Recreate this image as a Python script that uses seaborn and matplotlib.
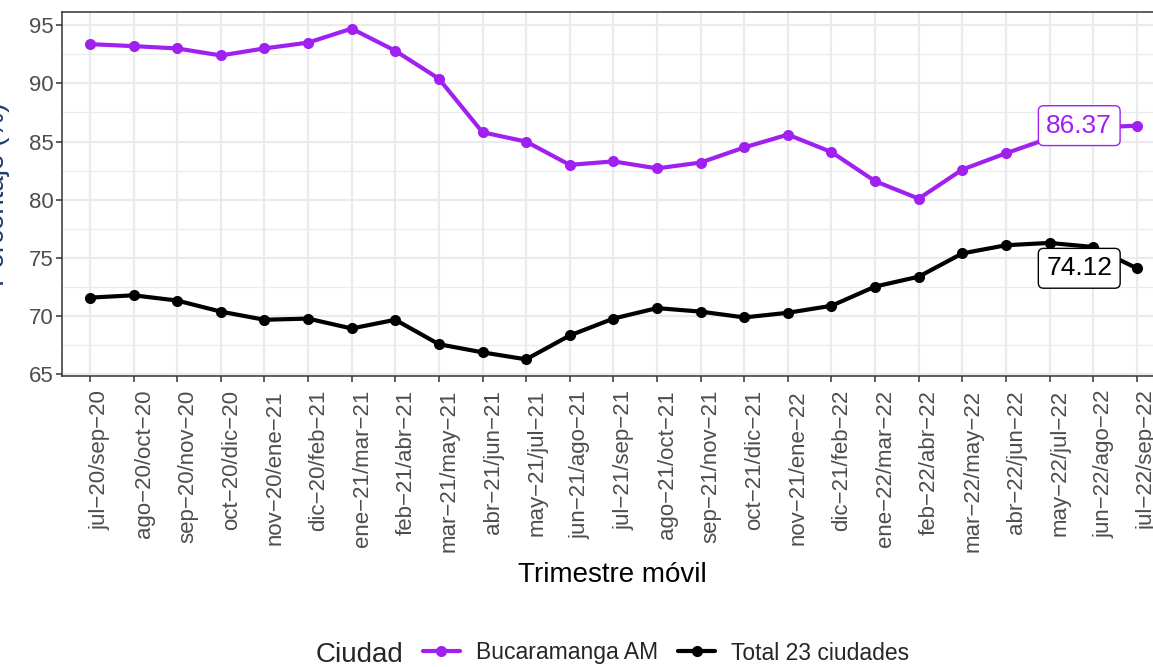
import pandas as pd
import seaborn as sns
from matplotlib import pyplot as plt, ticker
from matplotlib.lines import Line2D

periodos = [
    "jul−20/sep−20", "ago−20/oct−20", "sep−20/nov−20", "oct−20/dic−20",
    "nov−20/ene−21", "dic−20/feb−21", "ene−21/mar−21", "feb−21/abr−21",
    "mar−21/may−21", "abr−21/jun−21", "may−21/jul−21", "jun−21/ago−21",
    "jul−21/sep−21", "ago−21/oct−21", "sep−21/nov−21", "oct−21/dic−21",
    "nov−21/ene−22", "dic−21/feb−22", "ene−22/mar−22", "feb−22/abr−22",
    "mar−22/may−22", "abr−22/jun−22", "may−22/jul−22", "jun−22/ago−22",
    "jul−22/sep−22",
]
bucaramanga = [93.37, 93.2, 93.0, 92.4, 93.0, 93.5, 94.7, 92.8, 90.4, 85.8,
               85.0, 83.0, 83.3, 82.7, 83.2, 84.5, 85.6, 84.1, 81.6, 80.1,
               82.6, 84.0, 85.3, 86.2, 86.37]
total = [71.6, 71.8, 71.35, 70.4, 69.7, 69.8, 68.95, 69.7, 67.6, 66.9,
         66.3, 68.35, 69.8, 70.7, 70.4, 69.9, 70.3, 70.9, 72.55, 73.4,
         75.4, 76.1, 76.3, 75.95, 74.12]
ciudades = ["Bucaramanga AM", "Total 23 ciudades"]
colores = ["#A020F0", "#000000"]


def main():
    sns.set_theme(style="white")
    plt.rcParams['font.family'] = ['Liberation Sans', 'DejaVu Sans']

    df = pd.concat([
        pd.DataFrame({"periodo": periodos, "valor": bucaramanga, "ciudad": ciudades[0]}),
        pd.DataFrame({"periodo": periodos, "valor": total, "ciudad": ciudades[1]}),
    ])
    paleta = dict(zip(ciudades, colores))

    fig = plt.figure(figsize=(11.53, 6.67), dpi=100)
    ax = fig.add_axes([62 / 1153, 291 / 667, 1101 / 1153, 364 / 667])

    sns.lineplot(ax=ax, data=df, x="periodo", y="valor", hue="ciudad", palette=paleta,
                 marker="o", markersize=8, markeredgewidth=0, linewidth=3,
                 sort=False, legend=False, zorder=3)

    ax.set_xlim(-0.64, len(periodos) - 1 + 0.6)
    ax.set_ylim(64.87, 96.13)
    ax.yaxis.set_major_locator(ticker.MultipleLocator(5))
    ax.yaxis.set_minor_locator(ticker.MultipleLocator(2.5))
    ax.grid(which="major", color="#EBEBEB", linewidth=1.6)
    ax.grid(which="minor", axis="y", color="#EBEBEB", linewidth=0.9)
    ax.set_axisbelow(True)
    for s in ax.spines.values():
        s.set_color("#333333")
        s.set_linewidth(1.1)

    ax.tick_params(axis="both", which="major", length=4, width=1.1, color="#333333",
                   labelsize=16, labelcolor="#4D4D4D", bottom=True, left=True)
    ax.tick_params(axis="y", which="major", pad=2)
    ax.tick_params(which="minor", length=0)
    ax.set_xticks(range(len(periodos)))
    ax.set_xticklabels(periodos)
    plt.setp(ax.get_xticklabels(), rotation=90, ha="right", va="top",
             rotation_mode="anchor")
    ax.tick_params(axis="x", pad=6)

    ax.set_xlabel("Trimestre móvil", fontsize=20, color="black")
    ax.xaxis.set_label_coords(0.5, -0.51)
    # en la referencia el titulo del eje y queda casi fuera del lienzo
    ax.set_ylabel("Porcentaje (%)", fontsize=20, color="#1F3A6E")
    ax.yaxis.set_label_coords(-0.0475, 0.5)

    # etiquetas del ultimo valor
    ax.text(22.68, bucaramanga[-1], f"{bucaramanga[-1]:.2f}", ha="center", va="center",
            fontsize=19, color=colores[0], zorder=5,
            bbox=dict(boxstyle="round,pad=0.3,rounding_size=0.2", fc="white",
                      ec=colores[0], lw=1))
    ax.text(22.68, total[-1], f"{total[-1]:.2f}", ha="center", va="center",
            fontsize=19, color=colores[1], zorder=5,
            bbox=dict(boxstyle="round,pad=0.3,rounding_size=0.2", fc="white",
                      ec=colores[1], lw=1))

    handles = [Line2D([], [], color=c, marker="o", lw=3, ms=8, markeredgewidth=0)
               for c in colores]
    fig.text(316 / 1153, 12 / 667, "Ciudad", fontsize=20, ha="left", va="center")
    fig.legend(handles=handles, labels=ciudades, loc="center",
               bbox_to_anchor=(666 / 1153, 14 / 667), ncol=2, frameon=False,
               fontsize=16.5, handlelength=1.6, handletextpad=0.7,
               columnspacing=0.9)

    fig.savefig("out.png", dpi=100)


if __name__ == '__main__':
    main()
